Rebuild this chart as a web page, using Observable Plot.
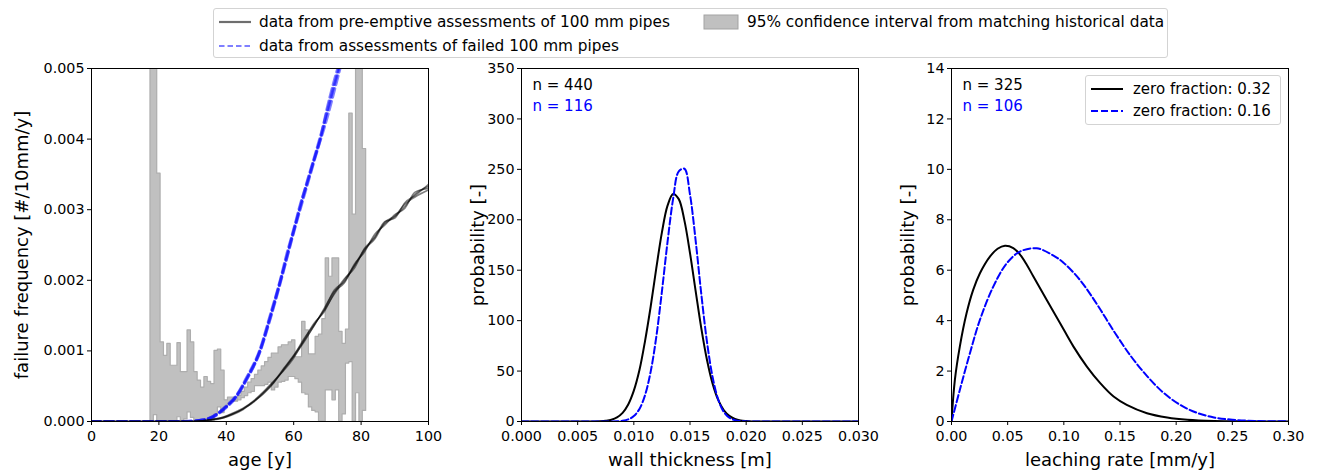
<!DOCTYPE html>
<html><head><meta charset="utf-8">
<script src="https://cdn.jsdelivr.net/npm/d3@7"></script>
<script src="https://cdn.jsdelivr.net/npm/@observablehq/plot@0.6"></script>
<style>
body{margin:0;background:#fff;font-family:"DejaVu Sans",sans-serif;}
#wrap{position:relative;width:1320px;height:473px;overflow:hidden;background:#fff;}
.panel{position:absolute;top:58px;}
.leg{position:absolute;border:1px solid #d3d3d3;border-radius:3px;background:rgba(255,255,255,0.85);box-sizing:border-box;}
.item{position:absolute;font-size:15.3px;line-height:18px;white-space:nowrap;color:#000;}
.leg svg{position:absolute;left:0;top:0;overflow:visible;}
</style></head><body>
<div id="wrap">
  <div class="leg" style="left:213px;top:8px;width:955px;height:50px;">
    <svg width="955" height="50">
      <line x1="5" x2="37" y1="13" y2="13" stroke="#6e6e6e" stroke-width="2.2"/>
      <line x1="5" x2="37" y1="37" y2="37" stroke="#7f7fff" stroke-width="2.2" stroke-dasharray="5.5,3"/>
      <rect x="490" y="6" width="34" height="14" fill="#c0c0c0" stroke="#a3a3a3"/>
    </svg>
    <span class="item" style="left:45px;top:4px;">data from pre-emptive assessments of 100 mm pipes</span>
    <span class="item" style="left:45px;top:28px;">data from assessments of failed 100 mm pipes</span>
    <span class="item" style="left:533px;top:4px;">95% confidence interval from matching historical data</span>
  </div>
  <div id="p1" class="panel" style="left:0px;"></div>
  <div id="p2" class="panel" style="left:430px;"></div>
  <div id="p3" class="panel" style="left:860px;"></div>
  <div class="leg" style="left:1085px;top:75px;width:196px;height:50px;">
    <svg width="196" height="50">
      <line x1="5" x2="37" y1="13" y2="13" stroke="#000" stroke-width="2"/>
      <line x1="5" x2="37" y1="35" y2="35" stroke="#0000ff" stroke-width="2" stroke-dasharray="7,3"/>
    </svg>
    <span class="item" style="left:47px;top:4px;font-size:15px;">zero fraction: 0.32</span>
    <span class="item" style="left:47px;top:26px;font-size:15px;">zero fraction: 0.16</span>
  </div>
</div>
<script>
// ---------- Panel 1: failure frequency vs age ----------
// histogram bins (1-year, centred on these ages), values in units of 0.001
const histAges = [18,19,20,21,22,23,24,25,26,27,28,29,30,31,32,33,34,35,36,37,38,39,40,41,42,43,44,45,46,47,48,49,
  50,51,52,53,54,55,56,57,58,59,60,61,62,63,64,65,66,67,68,69,70,71,72,73,74,75,76,77,78,79,80,81];
const histUpper = [8,8,3.51,1.12,0.93,1.10,0.79,0.79,1.11,0.70,0.70,1.29,1.12,0.70,0.58,0.48,0.63,0.56,0.53,1.0,1.02,0.72,0.30,0.34,
  0.34,0.30,0.36,0.42,0.48,0.55,0.60,0.66,0.72,0.78,0.84,0.90,0.96,0.96,1.05,1.08,1.08,1.12,1.15,0.91,0.91,1.41,1.29,0.95,
  0.95,1.20,1.23,1.45,2.31,2.05,2.31,2.31,1.27,1.10,1.30,4.36,2.93,8,8,3.86];
const histLower = [0,0.09,0,0,0,0,0,0,0.06,0,0.03,0.13,0.05,0,0,0,0,0,0,0.10,0.20,0.12,0.20,0.25,0.28,0.28,0.30,0.33,0.36,
  0.40,0.42,0.50,0.50,0.50,0.52,0.55,0.44,0.48,0.55,0.56,0.58,0.63,0.63,0.60,0.55,0.40,0.38,0.20,0.15,0.13,0,0,0.44,0.44,
  0.30,0.44,0,0.10,0.82,0.84,0,0.40,0,0.15];

// pre-emptive assessment curves (units of 0.001)
const lineAges = [0,30,33,36,39,42,45,48,51,54,57,60,63,66,69,72,75,78,81,84,87,90,93,96,100];
const pre1 = [0,0,0.01,0.03,0.05,0.11,0.18,0.27,0.40,0.55,0.73,0.92,1.12,1.36,1.58,1.86,1.98,2.20,2.42,2.62,2.80,2.90,3.05,3.22,3.33];
const pre2 = [0,0,0.01,0.03,0.06,0.12,0.19,0.29,0.42,0.57,0.72,0.90,1.15,1.39,1.55,1.82,2.02,2.17,2.45,2.60,2.83,2.88,3.10,3.20,3.36];
const pre3 = [0,0,0.01,0.02,0.05,0.10,0.17,0.28,0.41,0.56,0.75,0.94,1.14,1.35,1.60,1.84,1.96,2.23,2.40,2.65,2.78,2.93,3.02,3.25,3.30];
const pre4 = [0,0,0.01,0.03,0.06,0.11,0.18,0.28,0.39,0.54,0.74,0.93,1.17,1.37,1.57,1.80,2.00,2.21,2.44,2.58,2.82,2.91,3.08,3.18,3.28];

// failed-pipe assessment curves (units of 0.001)
const failAges = [0,25,30,33,36,40,43,46,50,53,56,58,60,62,64,66,68,70,72,74];
const fail1 = [0,0,0.005,0.02,0.07,0.21,0.36,0.60,1.00,1.47,1.98,2.34,2.70,3.05,3.40,3.72,4.05,4.40,4.76,5.10];
const fail2 = [0,0,0.005,0.02,0.07,0.22,0.37,0.62,1.02,1.50,2.00,2.38,2.72,3.08,3.38,3.70,4.00,4.32,4.68,5.05];
const fail3 = [0,0,0.004,0.02,0.06,0.20,0.35,0.59,0.99,1.45,1.96,2.32,2.68,3.02,3.35,3.68,4.02,4.45,4.82,5.15];

const ageTicks = [0,20,40,60,80,100];
const freqTicks = [0,0.001,0.002,0.003,0.004,0.005];

// ---------- Panel 2: wall thickness ----------
const wtX = [0,0.005,0.0065,0.007,0.0075,0.008,0.0085,0.009,0.0095,0.010,0.0105,0.011,0.0115,0.012,0.0125,0.013,0.0135,
  0.014,0.0145,0.015,0.0155,0.016,0.0165,0.017,0.0175,0.018,0.0185,0.019,0.0195,0.020,0.0205,0.021,0.025,0.030];
const wtPre = [0,0,0.1,0.3,0.8,1.8,4.1,8.6,16.9,30.6,51,80,114,152,187.5,214,225.6,220.5,199.4,167,129.5,92.9,61.7,38,
  21.6,11.4,5.6,2.5,1.0,0.4,0.1,0,0,0];
const wtFail = [0,0,0,0,0,0.05,0.2,0.7,2.1,5.4,12.5,26.2,49.5,84,129,178,221,248,250.6,225,179.6,127,80,44.7,22.2,9.7,
  3.8,1.3,0.4,0.1,0,0,0,0];
const wtTicks = [0,0.005,0.010,0.015,0.020,0.025,0.030];
const wtProbTicks = [0,50,100,150,200,250,300,350];
const wtN = ["n = 440","n = 116"];

// ---------- Panel 3: leaching rate ----------
const lrPreX = [0,0.003,0.0074,0.0134,0.0193,0.0253,0.0342,0.041,0.0476,0.055,0.061,0.067,0.0729,0.0848,0.0967,0.1086,
  0.1205,0.1324,0.1443,0.156,0.174,0.192,0.21,0.234,0.26,0.30];
const lrPre = [0,1.65,2.97,4.29,5.22,5.88,6.54,6.85,6.97,6.88,6.62,6.22,5.75,4.82,3.90,2.97,2.18,1.52,0.99,0.66,0.33,
  0.16,0.07,0.02,0.005,0];
const lrFailX = [0,0.0074,0.0164,0.0253,0.0372,0.0491,0.061,0.0759,0.0908,0.0997,0.1146,0.1295,0.1443,0.1592,0.1741,
  0.189,0.2039,0.2188,0.2336,0.25,0.27,0.30];
const lrFail = [0,1.25,2.71,4.03,5.35,6.27,6.74,6.87,6.58,6.30,5.60,4.65,3.60,2.62,1.80,1.13,0.65,0.34,0.16,0.07,0.02,0.005];
const lrTicks = [0,0.05,0.10,0.15,0.20,0.25,0.30];
const lrProbTicks = [0,2,4,6,8,10,12,14];
const lrN = ["n = 325","n = 106"];

// ---------- common ----------
const FONT = "DejaVu Sans";
const base = {
  width: 440, height: 415, marginLeft: 91, marginRight: 12, marginTop: 10, marginBottom: 52,
  style: {fontFamily: FONT, fontSize: "14.3px", color: "#000", background: "transparent", overflow: "visible"}
};
function axes(xt, xf, yt, yf, xlab, ylab, ylabDx) {
  return [
    Plot.axisX({ticks: xt, tickFormat: xf, tickSize: 4, tickPadding: 5, label: null, stroke: "#000"}),
    Plot.axisY({ticks: yt, tickFormat: yf, tickSize: 4, tickPadding: 3, label: null, stroke: "#000"}),
    Plot.frame({stroke: "#000", strokeWidth: 1}),
    Plot.text([xlab], {frameAnchor: "bottom", dy: 39, textAnchor: "middle", lineAnchor: "middle", fontSize: 18, fill: "#000"}),
    Plot.text([ylab], {frameAnchor: "left", dx: ylabDx, rotate: -90, textAnchor: "middle", lineAnchor: "middle", fontSize: 18, fill: "#000"})
  ];
}

// panel 1
const histRows = histAges.map((a, i) => ({x: a - 0.5, lo: histLower[i] * 1e-3, hi: histUpper[i] * 1e-3}));
histRows.push({x: histAges[histAges.length - 1] + 0.5, lo: histLower[histLower.length - 1] * 1e-3, hi: histUpper[histUpper.length - 1] * 1e-3});
const preRows = [pre1, pre2, pre3, pre4].flatMap((s, k) => lineAges.map((a, i) => ({age: a, v: s[i] * 1e-3, k})));
const failRows = [fail1, fail2, fail3].flatMap((s, k) => failAges.map((a, i) => ({age: a, v: s[i] * 1e-3, k})));

const p1 = Plot.plot({
  ...base,
  x: {domain: [0, 100]},
  y: {domain: [0, 0.005]},
  marks: [
    Plot.areaY(histRows, {x: "x", y1: "lo", y2: "hi", curve: "step-after", fill: "#c0c0c0", stroke: "#adadad", strokeWidth: 1.2, clip: true}),
    Plot.line(failRows, {x: "age", y: "v", z: "k", stroke: "#0000ff", strokeOpacity: 0.5, strokeWidth: 3, strokeDasharray: "9,4", curve: "monotone-x", clip: true}),
    Plot.line(preRows, {x: "age", y: "v", z: "k", stroke: "#000", strokeOpacity: 0.5, strokeWidth: 1.5, curve: "monotone-x", clip: true}),
    ...axes(ageTicks, d3.format("d"), freqTicks, d3.format(".3f"), "age [y]", "failure frequency [#/10mm/y]", -69)
  ]
});
document.getElementById("p1").appendChild(p1);

// panel 2
const wtRowsPre = wtX.map((x, i) => ({x, y: wtPre[i]}));
const wtRowsFail = wtX.map((x, i) => ({x, y: wtFail[i]}));
const p2 = Plot.plot({
  ...base,
  x: {domain: [0, 0.03]},
  y: {domain: [0, 350]},
  marks: [
    Plot.line(wtRowsPre, {x: "x", y: "y", stroke: "#000", strokeWidth: 2, curve: "catmull-rom", clip: true}),
    Plot.line(wtRowsFail, {x: "x", y: "y", stroke: "#0000ff", strokeWidth: 2, strokeDasharray: "7,3", curve: "catmull-rom", clip: true}),
    Plot.text([wtN[0]], {frameAnchor: "top-left", dx: 11, dy: 17, textAnchor: "start", lineAnchor: "middle", fontSize: 15, fill: "#000"}),
    Plot.text([wtN[1]], {frameAnchor: "top-left", dx: 11, dy: 38, textAnchor: "start", lineAnchor: "middle", fontSize: 15, fill: "#0000ff"}),
    ...axes(wtTicks, d3.format(".3f"), wtProbTicks, d3.format("d"), "wall thickness [m]", "probability [-]", -43)
  ]
});
document.getElementById("p2").appendChild(p2);

// panel 3
const lrRowsPre = lrPreX.map((x, i) => ({x, y: lrPre[i]}));
const lrRowsFail = lrFailX.map((x, i) => ({x, y: lrFail[i]}));
const p3 = Plot.plot({
  ...base,
  x: {domain: [0, 0.3]},
  y: {domain: [0, 14]},
  marks: [
    Plot.line(lrRowsPre, {x: "x", y: "y", stroke: "#000", strokeWidth: 2, curve: "catmull-rom", clip: true}),
    Plot.line(lrRowsFail, {x: "x", y: "y", stroke: "#0000ff", strokeWidth: 2, strokeDasharray: "7,3", curve: "catmull-rom", clip: true}),
    Plot.text([lrN[0]], {frameAnchor: "top-left", dx: 11, dy: 17, textAnchor: "start", lineAnchor: "middle", fontSize: 15, fill: "#000"}),
    Plot.text([lrN[1]], {frameAnchor: "top-left", dx: 11, dy: 38, textAnchor: "start", lineAnchor: "middle", fontSize: 15, fill: "#0000ff"}),
    ...axes(lrTicks, d3.format(".2f"), lrProbTicks, d3.format("d"), "leaching rate [mm/y]", "probability [-]", -43)
  ]
});
document.getElementById("p3").appendChild(p3);
</script>
</body></html>
